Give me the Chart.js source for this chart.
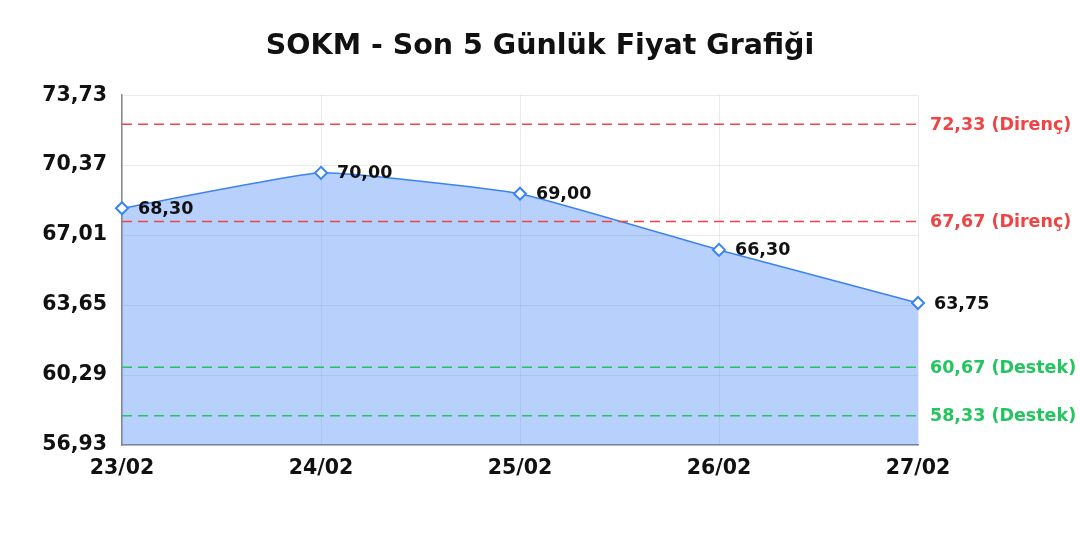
<!DOCTYPE html>
<html><head><meta charset="utf-8">
<script src="https://cdn.jsdelivr.net/npm/chart.js@4.4.1/dist/chart.umd.min.js"></script>
<style>html,body{margin:0;padding:0;background:#fff}#wrap{width:1080px;height:540px}</style>
</head><body><div id="wrap"><canvas id="c"></canvas></div>
<script>
const categories = ['23/02','24/02','25/02','26/02','27/02'];
const prices = [68.30, 70.00, 69.00, 66.30, 63.75];
const resistanceLevels = [72.33, 67.67];
const supportLevels = [60.67, 58.33];
const yMin = 56.93, yMax = 73.73, yStep = 3.36;
const titleText = 'SOKM - Son 5 Günlük Fiyat Grafiği';

const fmt = v => v.toFixed(2).replace('.', ',');
const FONT = "'DejaVu Sans', Verdana, sans-serif";

const levelPlugin = {
  id: 'levels',
  afterDatasetsDraw(chart) {
    const {ctx, chartArea, scales} = chart;
    const y = scales.y;
    const draw = (vals, color, label) => {
      vals.forEach(v => {
        const py = y.getPixelForValue(v);
        ctx.save();
        ctx.strokeStyle = color;
        ctx.lineWidth = 1.5;
        ctx.setLineDash([10, 6]);
        ctx.beginPath();
        ctx.moveTo(chartArea.left, py);
        ctx.lineTo(chartArea.right, py);
        ctx.stroke();
        ctx.setLineDash([]);
        ctx.fillStyle = color;
        ctx.font = "bold 17.5px " + FONT;
        ctx.textAlign = 'left';
        ctx.textBaseline = 'middle';
        ctx.fillText(fmt(v) + ' (' + label + ')', chartArea.right + 12, py + 1);
        ctx.restore();
      });
    };
    draw(resistanceLevels, '#ef4444', 'Direnç');
    draw(supportLevels, '#22c55e', 'Destek');
    const meta = chart.getDatasetMeta(0);
    ctx.save();
    ctx.fillStyle = '#111';
    ctx.font = "bold 17.5px " + FONT;
    ctx.textAlign = 'left';
    ctx.textBaseline = 'middle';
    meta.data.forEach((pt, i) => {
      ctx.fillText(fmt(prices[i]), pt.x + 16, pt.y + 1);
    });
    ctx.restore();
  }
};

new Chart(document.getElementById('c'), {
  type: 'line',
  data: {
    labels: categories,
    datasets: [{
      data: prices,
      borderColor: '#3b82f6',
      borderWidth: 1.5,
      backgroundColor: 'rgba(59,130,246,0.37)',
      fill: 'start',
      tension: 0.12,
      pointStyle: 'rectRot',
      pointRadius: 6,
      pointBorderWidth: 2,
      pointBackgroundColor: '#fff',
      pointBorderColor: '#3b82f6'
    }]
  },
  options: {
    responsive: true,
    maintainAspectRatio: false,
    animation: false,
    layout: {padding: 0},
    plugins: {
      legend: {display: false},
      tooltip: {enabled: false},
      title: {
        display: true,
        text: titleText,
        color: '#111',
        font: {family: FONT, size: 28.5, weight: 'bold'},
        padding: {top: 29, bottom: 32}
      }
    },
    scales: {
      x: {
        grid: {color: 'rgba(0,0,0,0.08)', drawTicks: false},
        border: {color: '#888', width: 1.5},
        ticks: {color: '#111', font: {family: FONT, size: 20.5, weight: 'bold'}, padding: 11, maxRotation: 0},
        afterFit(s) { s.height = 95; }
      },
      y: {
        min: yMin, max: yMax,
        afterBuildTicks(s) {
          const t = [];
          for (let i = 0; i <= 5; i++) t.push({value: yMin + i * yStep});
          s.ticks = t;
        },
        grid: {color: 'rgba(0,0,0,0.08)', drawTicks: false},
        border: {color: '#888', width: 1.5},
        ticks: {color: '#111', font: {family: FONT, size: 20.5, weight: 'bold'}, padding: 15,
          callback: v => fmt(v)},
        afterFit(s) { s.width = 122; }
      },
      yRight: {
        position: 'right',
        min: yMin, max: yMax,
        grid: {display: false, drawTicks: false},
        border: {display: false},
        ticks: {display: false},
        afterFit(s) { s.width = 162; }
      }
    }
  },
  plugins: [levelPlugin]
});
</script></body></html>
